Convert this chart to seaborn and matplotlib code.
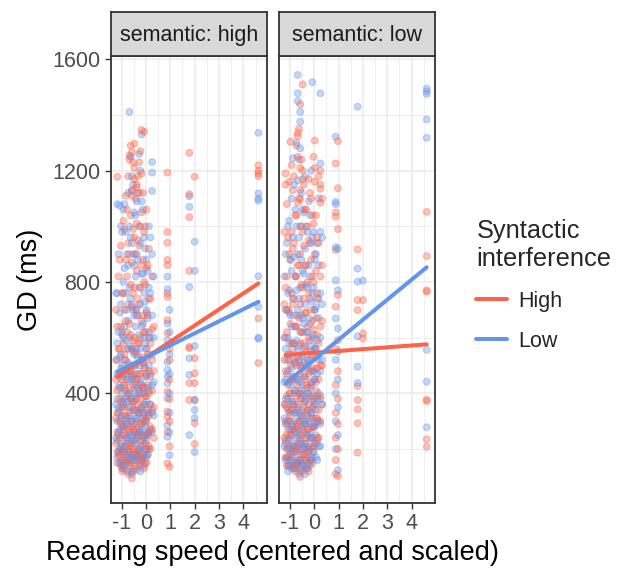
import matplotlib
matplotlib.use("Agg")
import matplotlib.pyplot as plt
from matplotlib.ticker import MultipleLocator
import seaborn as sns
import pandas as pd

# ---------------- data ----------------
semantic_levels = ["high", "low"]
syntactic_levels = ["High", "Low"]

# participant reading speeds (centered and scaled), group A
speeds = [-1.18, -1.08, -0.98, -0.88, -0.78, -0.68, -0.58, -0.48, -0.38, -0.28,
          -0.18, -0.08, 0.02, 0.12, 0.25, 0.88, 0.97, 1.78, 2.0, 4.62]
# participant reading speeds, group B (dense fast/slow cluster)
speeds_b = [-1.23, -1.13, -1.03, -0.93, -0.83, -0.73, -0.63, -0.53, -0.43, -0.33,
            -0.23, -0.13, -0.03, 0.07, 0.18, 0.32]

# GD (ms) per speed column: semantic high / syntactic High
gd_semhigh_synhigh = [
    [1178, 640, 520, 410, 330, 260, 190, 150],
    [880, 560, 470, 380, 300, 240, 175],
    [760, 610, 450, 350, 280, 210, 160, 120],
    [990, 700, 540, 430, 320, 250, 180, 140],
    [1060, 820, 620, 480, 390, 290, 220, 170],
    [1255, 1240, 900, 650, 500, 410, 330, 260, 200, 150],
    [1267, 1130, 1110, 870, 710, 560, 460, 370, 280, 210, 160, 95],
    [1297, 1210, 1170, 960, 780, 600, 500, 420, 340, 270, 230, 180, 130],
    [1150, 1140, 1010, 840, 680, 540, 450, 380, 300, 250, 190, 140],
    [1230, 1120, 930, 720, 580, 470, 400, 330, 260, 200, 160],
    [1346, 1190, 1050, 860, 660, 520, 430, 350, 290, 230, 170],
    [1340, 980, 800, 620, 510, 420, 360, 300, 240, 180, 130],
    [1060, 850, 690, 560, 470, 390, 310, 250, 200, 150],
    [920, 740, 600, 480, 400, 320, 260, 210],
    [820, 630, 520, 410, 330, 270],
    [1193, 980, 941, 879, 861, 760, 747, 663, 616, 406, 334, 316, 262, 148],
    [560, 520, 450, 380, 300, 210, 136],
    [1264, 1115, 1033, 840, 567, 562, 437, 376],
    [1178, 526, 472, 437, 376, 293, 218],
    [1219, 1200, 1190, 1180, 669, 509],
]
gd_semhigh_synhigh_b = [
    [700, 450, 310, 220],
    [820, 560, 420, 330, 250, 180],
    [930, 640, 490, 370, 290, 200, 140],
    [1020, 760, 580, 460, 360, 270, 190, 130],
    [1110, 880, 660, 520, 410, 320, 240, 160],
    [1180, 940, 720, 560, 440, 350, 270, 190, 110],
    [1290, 1040, 790, 610, 480, 380, 300, 220, 150],
    [1230, 990, 760, 590, 470, 370, 280, 200, 120],
    [1100, 900, 700, 550, 430, 340, 260, 180],
    [1180, 950, 740, 580, 450, 360, 270, 190],
    [1270, 1000, 780, 600, 470, 380, 290, 210, 140],
    [1120, 880, 680, 530, 420, 330, 250, 170],
    [1000, 790, 620, 490, 390, 300, 220, 150],
    [860, 680, 540, 430, 340, 260, 180],
    [740, 580, 460, 360, 280, 200],
    [640, 480, 350, 240],
]
# semantic high / syntactic Low
gd_semhigh_synlow = [
    [1080, 760, 580, 470, 380, 300, 230, 170],
    [1075, 690, 530, 430, 340, 270, 200, 150],
    [980, 620, 500, 400, 320, 250, 190, 130],
    [1080, 850, 640, 520, 420, 350, 280, 210, 160],
    [900, 700, 560, 450, 370, 300, 240, 180, 120],
    [1411, 1000, 780, 600, 480, 400, 320, 250, 190, 140],
    [1180, 1127, 940, 720, 560, 460, 380, 300, 230, 170, 110],
    [1050, 860, 680, 540, 450, 370, 290, 220, 160],
    [1090, 900, 700, 560, 470, 390, 310, 240, 180, 125],
    [1260, 1000, 780, 610, 500, 410, 330, 260, 200, 150],
    [1330, 1090, 830, 640, 520, 430, 350, 280, 210, 160],
    [960, 760, 600, 490, 400, 320, 250, 190, 140],
    [880, 700, 560, 460, 370, 300, 230, 170],
    [1000, 780, 620, 500, 410, 330, 260, 200],
    [1231, 1193, 1127, 900, 680, 540, 430, 340, 260],
    [819, 774, 651, 591, 513, 484, 460, 436, 382, 286, 244],
    [700, 620, 540, 470, 400, 330, 260, 178],
    [1108, 1070, 782, 526, 466, 250],
    [945, 840, 570, 376, 340, 311, 189],
    [1336, 1118, 1100, 1092, 821, 711, 600, 596],
]
gd_semhigh_synlow_b = [
    [760, 520, 360, 240],
    [900, 620, 460, 350, 260, 190],
    [1000, 720, 540, 420, 310, 220, 150],
    [1060, 800, 600, 470, 370, 280, 200, 140],
    [980, 760, 590, 470, 380, 290, 210, 150],
    [1120, 860, 660, 510, 400, 310, 230, 160],
    [1250, 960, 740, 570, 450, 350, 260, 180, 120],
    [1150, 900, 700, 550, 430, 340, 250, 170],
    [1040, 820, 640, 500, 400, 310, 230, 160],
    [1120, 880, 680, 530, 420, 330, 250, 170],
    [1200, 940, 720, 560, 440, 340, 260, 180, 120],
    [1060, 830, 650, 510, 400, 310, 230, 160],
    [920, 730, 580, 460, 360, 280, 200],
    [840, 670, 530, 420, 330, 250, 180],
    [960, 760, 600, 470, 360, 270],
    [820, 600, 440, 320],
]
# semantic low / syntactic High
gd_semlow_synhigh = [
    [1190, 1150, 780, 600, 480, 380, 300, 230, 170],
    [960, 700, 540, 430, 340, 270, 200, 140],
    [1304, 880, 650, 500, 400, 320, 250, 180],
    [1130, 920, 720, 560, 450, 360, 280, 210, 150],
    [1040, 820, 640, 510, 410, 330, 260, 190, 120],
    [1336, 1324, 1250, 1085, 860, 680, 530, 430, 350, 270, 200, 150],
    [1438, 1210, 1130, 1098, 900, 720, 580, 470, 380, 300, 230, 160, 100],
    [1510, 1200, 1170, 980, 780, 620, 500, 400, 320, 250, 180, 120],
    [1060, 860, 690, 560, 450, 370, 290, 220, 160],
    [1000, 800, 640, 520, 420, 340, 270, 200, 140],
    [1120, 940, 740, 590, 480, 390, 310, 240, 170],
    [1040, 820, 660, 540, 440, 350, 280, 210, 150],
    [1308, 1210, 1160, 900, 700, 560, 450, 360, 280, 210],
    [960, 760, 610, 490, 390, 310, 240],
    [1200, 1150, 1135, 1085, 820, 640, 500, 390, 300],
    [1226, 1050, 1035, 915, 711, 560, 430, 330, 240, 160, 110],
    [1306, 1137, 990, 753, 591, 480, 380, 290, 200, 103],
    [917, 735, 699, 426, 376, 343, 293, 187],
    [735, 615, 597],
    [1052, 893, 770, 765, 377, 372, 235, 208],
]
gd_semlow_synhigh_b = [
    [980, 720, 520, 360, 240],
    [1080, 820, 620, 470, 350, 250, 170],
    [1160, 900, 690, 520, 400, 300, 210, 140],
    [1220, 980, 760, 580, 450, 340, 250, 170],
    [1180, 940, 740, 580, 460, 360, 270, 190, 130],
    [1290, 1040, 820, 640, 500, 390, 290, 210, 140],
    [1350, 1100, 860, 670, 520, 400, 300, 220, 150],
    [1240, 1000, 790, 620, 490, 380, 280, 200, 130],
    [1150, 930, 740, 580, 460, 350, 260, 180],
    [1060, 860, 690, 550, 430, 330, 240, 170],
    [1170, 950, 760, 600, 470, 360, 270, 190, 120],
    [1100, 880, 700, 550, 430, 330, 240, 160],
    [1250, 1010, 800, 630, 490, 380, 280, 190],
    [1040, 840, 670, 530, 410, 310, 220],
    [1180, 940, 740, 580, 450, 340, 240],
    [1100, 860, 660, 500, 360],
]
# semantic low / syntactic Low
gd_semlow_synlow = [
    [900, 700, 560, 450, 360, 290, 220, 160],
    [1000, 760, 600, 480, 380, 300, 230, 170, 120],
    [880, 680, 540, 430, 340, 270, 200, 140],
    [1245, 960, 740, 580, 460, 370, 290, 220, 160],
    [1060, 820, 640, 510, 410, 330, 260, 190, 130],
    [1544, 1478, 1450, 1165, 900, 700, 560, 450, 360, 280, 210, 150],
    [1411, 1376, 1280, 1000, 780, 620, 500, 400, 320, 250, 180, 120],
    [1060, 840, 670, 540, 430, 340, 270, 200, 140],
    [1178, 920, 720, 570, 460, 370, 290, 220, 160, 110],
    [980, 780, 620, 500, 400, 320, 250, 190, 130],
    [1040, 820, 650, 520, 420, 340, 260, 200, 140],
    [1518, 960, 760, 600, 480, 390, 310, 240, 170],
    [880, 700, 560, 450, 360, 290, 220],
    [940, 740, 590, 470, 380, 300, 230, 160],
    [1478, 1226, 980, 760, 600, 480, 380, 290, 210],
    [1322, 1088, 1080, 925, 806, 669, 520, 400, 300, 200],
    [920, 770, 633, 550, 450, 350, 250, 124],
    [1430, 848, 801, 605, 496, 437],
    [805],
    [1495, 1485, 1475, 1384, 1318, 556, 442, 278],
]
gd_semlow_synlow_b = [
    [820, 600, 440, 310, 210],
    [940, 700, 520, 390, 290, 200, 140],
    [1020, 770, 580, 440, 330, 240, 160],
    [1100, 840, 640, 490, 370, 270, 190, 130],
    [1150, 890, 680, 520, 400, 300, 210, 140],
    [1300, 1000, 770, 590, 450, 340, 240, 160],
    [1240, 960, 740, 570, 440, 330, 240, 160, 110],
    [1120, 880, 680, 530, 410, 310, 220, 150],
    [1050, 830, 650, 510, 390, 300, 210, 140],
    [1000, 790, 620, 490, 380, 290, 200, 130],
    [1090, 860, 670, 520, 400, 300, 210, 150],
    [1200, 940, 730, 570, 440, 330, 240, 160],
    [980, 780, 610, 480, 370, 280, 190],
    [900, 710, 560, 440, 340, 250, 170],
    [1100, 860, 670, 520, 400, 300, 210],
    [960, 720, 520, 360],
]

# fitted linear trends (endpoints over the observed speed range)
fit_speed = [-1.18, 4.62]
fit_semhigh_synhigh = [460, 795]
fit_semhigh_synlow = [478, 729]
fit_semlow_synhigh = [538, 576]
fit_semlow_synlow = [436, 853]

y_ticks = [400, 800, 1200, 1600]
x_ticks = [-1, 0, 1, 2, 3, 4]

# ---------------- tidy tables ----------------
point_sets = [
    ("high", "High", speeds, gd_semhigh_synhigh), ("high", "High", speeds_b, gd_semhigh_synhigh_b),
    ("high", "Low", speeds, gd_semhigh_synlow), ("high", "Low", speeds_b, gd_semhigh_synlow_b),
    ("low", "High", speeds, gd_semlow_synhigh), ("low", "High", speeds_b, gd_semlow_synhigh_b),
    ("low", "Low", speeds, gd_semlow_synlow), ("low", "Low", speeds_b, gd_semlow_synlow_b),
]
rows = []
for sem, syn, spd, cols in point_sets:
    for sp, vals in zip(spd, cols):
        for v in vals:
            rows.append({"semantic": sem, "syn": syn, "speed": sp, "gd": v})
pts = pd.DataFrame(rows)
# interleave drawing order like raw trial data
pts = pts.sort_values(["semantic", "speed", "gd"], kind="stable").reset_index(drop=True)

fit_sets = {("high", "High"): fit_semhigh_synhigh, ("high", "Low"): fit_semhigh_synlow,
            ("low", "High"): fit_semlow_synhigh, ("low", "Low"): fit_semlow_synlow}
frows = []
for (sem, syn), ys in fit_sets.items():
    for sp, v in zip(fit_speed, ys):
        frows.append({"semantic": sem, "syn": syn, "speed": sp, "gd": v})
fits = pd.DataFrame(frows)

# ---------------- styling ----------------
sns.set_style("white")
plt.rcParams['font.family'] = ['Liberation Sans', 'DejaVu Sans']
plt.rcParams['axes.unicode_minus'] = False
palette = {"High": "#FF6347", "Low": "#6495ED"}
grey20 = "#333333"
grid_c = "#EBEBEB"

fig = plt.figure(figsize=(6.2, 5.73), dpi=100)
W, H = 620, 573
panel_bottom, panel_top = 503, 56
strip_top = 12
panel_lr = [(110.7, 266.7), (279, 435)]

axes = []
for i, sem in enumerate(semantic_levels):
    l, r = panel_lr[i]
    ax = fig.add_axes([l / W, (H - panel_bottom) / H, (r - l) / W, (panel_bottom - panel_top) / H])
    axes.append(ax)
    sub = pts[pts["semantic"] == sem]
    sns.scatterplot(data=sub, x="speed", y="gd", hue="syn", hue_order=syntactic_levels,
                    palette=palette, alpha=0.38, s=24, linewidth=0.8, edgecolor="face",
                    ax=ax, legend=False, zorder=3)
    fsub = fits[fits["semantic"] == sem]
    sns.lineplot(data=fsub, x="speed", y="gd", hue="syn", hue_order=syntactic_levels,
                 palette=palette, linewidth=2.9, ax=ax, legend=(i == 0), zorder=4)

    ax.set_xlim(-1.45, 4.96)
    ax.set_ylim(6, 1612)
    ax.set_xticks(x_ticks)
    ax.set_yticks(y_ticks)
    ax.xaxis.set_minor_locator(MultipleLocator(0.5))
    ax.yaxis.set_minor_locator(MultipleLocator(200))
    ax.grid(which="major", color=grid_c, linewidth=1.1, zorder=0)
    ax.grid(which="minor", color=grid_c, linewidth=0.6, zorder=0)
    ax.set_axisbelow(True)
    for sp in ax.spines.values():
        sp.set_color(grey20)
        sp.set_linewidth(1.3)
    ax.tick_params(axis="both", which="major", direction="out", length=4.5, width=1,
                   color=grey20, labelsize=15.5, labelcolor="#4D4D4D", pad=3,
                   bottom=True, left=(i == 0))
    ax.tick_params(which="minor", length=0)
    ax.set_xlabel("")
    ax.set_ylabel("")
    if i == 1:
        ax.set_yticklabels([])

    # strip
    sax = fig.add_axes([l / W, (H - panel_top) / H, (r - l) / W, (panel_top - strip_top) / H])
    sax.set_facecolor("#D9D9D9")
    sax.set_xticks([])
    sax.set_yticks([])
    for sp in sax.spines.values():
        sp.set_color(grey20)
        sp.set_linewidth(1.3)
    sax.text(0.5, 0.47, f"semantic: {sem}", ha="center", va="center", fontsize=15.5,
             color="#1A1A1A", transform=sax.transAxes)

# legend
handles, labels = axes[0].get_legend_handles_labels()
axes[0].get_legend().remove()
fig.legend(handles, labels, title="Syntactic\ninterference", loc="upper left",
           bbox_to_anchor=(457 / W, 1 - 200 / H), frameon=False, fontsize=15.5,
           title_fontsize=18.3, handlelength=1.4, handletextpad=0.55, labelspacing=0.9,
           alignment="left")

fig.text((110.7 + 435) / 2 / W, 1 - 553 / H, "Reading speed (centered and scaled)",
         ha="center", va="center", fontsize=19.5, color="black")
fig.text(30 / W, 1 - 280 / H, "GD (ms)", ha="center", va="center", rotation=90,
         fontsize=19.5, color="black")

fig.savefig("out.png", dpi=100)
